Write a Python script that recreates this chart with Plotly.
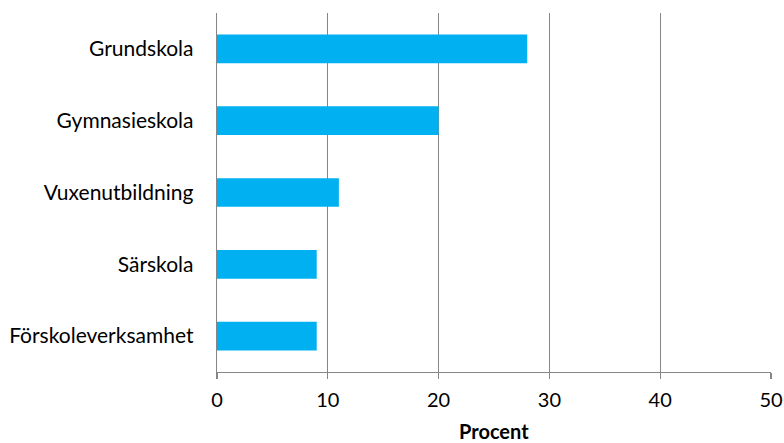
import plotly.graph_objects as go

categories = ["Grundskola", "Gymnasieskola", "Vuxenutbildning", "Särskola", "Förskoleverksamhet"]
values = [28, 20, 11, 9, 9]
x_ticks = [0, 10, 20, 30, 40, 50]
x_title = "Procent"

fig = go.Figure(go.Bar(
    y=categories, x=values, orientation="h",
    marker=dict(color="#00B0F0", line=dict(width=0)),
    hoverinfo="skip",
))

font_family = "Lato, 'Open Sans', sans-serif"
fig.update_layout(
    width=784, height=443,
    margin=dict(l=217, r=13, t=13, b=71, autoexpand=False),
    paper_bgcolor="white", plot_bgcolor="white",
    bargap=0.6,
    showlegend=False,
    font=dict(family=font_family, size=21, color="#000000"),
    annotations=[dict(
        text=f"<b>{x_title}</b>", xref="paper", yref="paper",
        x=0.5, y=-0.163, xanchor="center", yanchor="middle",
        showarrow=False, font=dict(size=20, color="#000000"),
    )],
)
fig.update_xaxes(
    range=[0, 50], tickvals=x_ticks,
    showgrid=True, gridcolor="#868686", gridwidth=1.3,
    showline=True, linecolor="#868686", linewidth=1.3,
    ticks="outside", ticklen=6, tickcolor="#868686", tickwidth=1.3,
    tickfont=dict(size=20),
    ticklabelstandoff=4,
    zeroline=False,
)
fig.update_yaxes(
    categoryorder="array", categoryarray=categories[::-1],
    showline=True, linecolor="#868686", linewidth=1.3,
    ticks="outside", ticklen=0,
    tickfont=dict(size=21),
    ticklabelstandoff=18,
)

fig.write_html(
    "out.html",
    config={"displayModeBar": False, "staticPlot": True},
    post_script="document.body.style.margin='0';document.body.style.overflow='hidden';",
)
